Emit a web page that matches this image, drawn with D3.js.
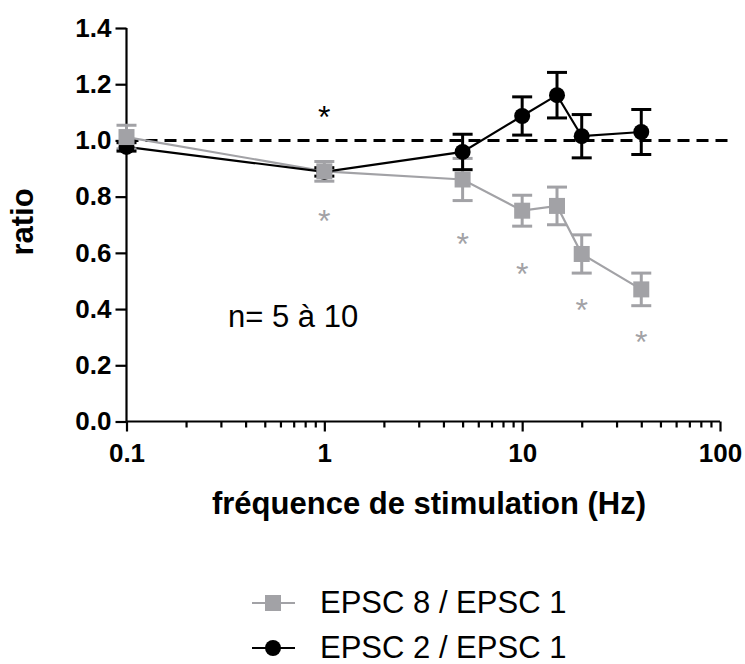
<!DOCTYPE html>
<html>
<head>
<meta charset="utf-8">
<script src="https://cdn.jsdelivr.net/npm/d3@7"></script>
<style>
  body { margin: 0; background: #fff; }
  svg text { font-family: 'Liberation Sans', Arial, sans-serif; }
</style>
</head>
<body>
<div id="viz"></div>
<script>
var freqs = [0.1, 1, 5, 10, 15, 20, 40],
    epsc8 = [1.012, 0.89, 0.861, 0.75, 0.767, 0.596, 0.47],
    epsc8Err = [0.042, 0.035, 0.075, 0.055, 0.067, 0.068, 0.058],
    epsc2 = [0.977, 0.888, 0.959, 1.087, 1.161, 1.015, 1.03],
    epsc2Err = [0.015, 0.015, 0.063, 0.068, 0.081, 0.077, 0.08],
    starsGrayX = [1, 5, 10, 20, 40],
    starsGrayY = [0.73, 0.648, 0.541, 0.415, 0.30],
    starsBlackX = [1],
    starsBlackY = [1.10],
    yTicks = [0, 0.2, 0.4, 0.6, 0.8, 1.0, 1.2, 1.4],
    xTicks = [0.1, 1, 10, 100],
    seriesNames = ['EPSC 8 / EPSC 1', 'EPSC 2 / EPSC 1'];

var gray = '#a2a2a6',
    width = 745,
    height = 664;

var svg = d3.select('#viz').append('svg')
  .attr('width', width)
  .attr('height', height);

var xScale = d3.scaleLog()
  .domain([0.1, 100])
  .range([126.5, 720]);

var yScale = d3.scaleLinear()
  .domain([0, 1.4])
  .range([421.5, 28]);

// minor ticks for the log axis
var minorTicks = xScale.ticks().filter(function(d) { return xTicks.indexOf(d) < 0; });

var xAxis = d3.axisBottom(xScale)
  .tickValues(xTicks)
  .tickFormat(function(d) { return d3.format('~g')(d); })
  .tickSize(10)
  .tickPadding(12);

var xMinor = d3.axisBottom(xScale)
  .tickValues(minorTicks)
  .tickFormat('')
  .tickSize(6);

var yAxis = d3.axisLeft(yScale)
  .tickValues(yTicks)
  .tickFormat(d3.format('.1f'))
  .tickSize(11)
  .tickPadding(4);

var xg = svg.append('g')
  .attr('transform', 'translate(0,' + yScale(0) + ')')
  .call(xAxis);
svg.append('g')
  .attr('transform', 'translate(0,' + yScale(0) + ')')
  .call(xMinor)
  .call(function(g) { g.select('.domain').remove(); });

var yg = svg.append('g')
  .attr('transform', 'translate(' + xScale(0.1) + ',0)')
  .call(yAxis);

svg.selectAll('.domain, .tick line')
  .attr('stroke', '#000')
  .attr('stroke-width', 2.2);
svg.selectAll('.domain')
  .attr('d', function() {
    return d3.select(this.parentNode).attr('transform').indexOf('translate(0') === 0
      ? 'M' + xScale.range()[0] + ',0H' + xScale.range()[1]
      : 'M0,' + yScale.range()[0] + 'V' + yScale.range()[1];
  });

svg.selectAll('.tick text')
  .attr('fill', '#000')
  .style('font-size', '26px')
  .style('font-weight', 'bold');

// reference line at 1.0
svg.append('line')
  .attr('x1', xScale(0.1))
  .attr('x2', 732)
  .attr('y1', yScale(1))
  .attr('y2', yScale(1))
  .attr('stroke', '#000')
  .attr('stroke-width', 3)
  .attr('stroke-dasharray', '12,7');

var line = d3.line()
  .x(function(d) { return xScale(d[0]); })
  .y(function(d) { return yScale(d[1]); });

var grayPts = freqs.map(function(f, i) { return [f, epsc8[i], epsc8Err[i]]; }),
    blackPts = freqs.map(function(f, i) { return [f, epsc2[i], epsc2Err[i]]; });

svg.append('path')
  .datum(grayPts)
  .attr('d', line)
  .attr('fill', 'none')
  .attr('stroke', gray)
  .attr('stroke-width', 2.2);

svg.append('path')
  .datum(blackPts)
  .attr('d', line)
  .attr('fill', 'none')
  .attr('stroke', '#000')
  .attr('stroke-width', 2.2);

function errorBars(pts, color) {
  var g = svg.append('g')
    .attr('stroke', color)
    .attr('stroke-width', 3)
    .selectAll('g').data(pts)
    .enter().append('g');
  g.append('line')
    .attr('x1', function(d) { return xScale(d[0]); })
    .attr('x2', function(d) { return xScale(d[0]); })
    .attr('y1', function(d) { return yScale(d[1] - d[2]); })
    .attr('y2', function(d) { return yScale(d[1] + d[2]); });
  [-1, 1].forEach(function(s) {
    g.append('line')
      .attr('x1', function(d) { return xScale(d[0]) - 10; })
      .attr('x2', function(d) { return xScale(d[0]) + 10; })
      .attr('y1', function(d) { return yScale(d[1] + s * d[2]); })
      .attr('y2', function(d) { return yScale(d[1] + s * d[2]); });
  });
}

errorBars(grayPts, gray);
errorBars(blackPts, '#000');

svg.append('g').selectAll('circle').data(blackPts)
  .enter().append('circle')
    .attr('cx', function(d) { return xScale(d[0]); })
    .attr('cy', function(d) { return yScale(d[1]); })
    .attr('r', 8)
    .attr('fill', '#000');

svg.append('g').selectAll('rect').data(grayPts)
  .enter().append('rect')
    .attr('x', function(d) { return xScale(d[0]) - 8; })
    .attr('y', function(d) { return yScale(d[1]) - 8; })
    .attr('width', 16)
    .attr('height', 16)
    .attr('fill', gray);

// significance stars
function stars(xs, ys, color) {
  svg.append('g').selectAll('text').data(xs)
    .enter().append('text')
      .attr('x', function(d) { return xScale(d); })
      .attr('y', function(d, i) { return yScale(ys[i]) + 16; })
      .attr('text-anchor', 'middle')
      .attr('fill', color)
      .style('font-size', '32px')
      .text('*');
}
stars(starsGrayX, starsGrayY, gray);
stars(starsBlackX, starsBlackY, '#000');

svg.append('text')
  .attr('x', 228)
  .attr('y', 327)
  .style('font-size', '31px')
  .text('n= 5 à 10');

svg.append('text')
  .attr('transform', 'translate(33,222) rotate(-90)')
  .attr('text-anchor', 'middle')
  .style('font-size', '31px')
  .style('font-weight', 'bold')
  .text('ratio');

svg.append('text')
  .attr('x', 429)
  .attr('y', 514)
  .attr('text-anchor', 'middle')
  .style('font-size', '31px')
  .style('font-weight', 'bold')
  .text('fréquence de stimulation (Hz)');

// legend
var legend = svg.append('g').selectAll('g').data(seriesNames)
  .enter().append('g')
    .attr('transform', function(d, i) { return 'translate(0,' + (603 + i * 45) + ')'; });

legend.append('line')
  .attr('x1', 252)
  .attr('x2', 295)
  .attr('stroke', function(d, i) { return i === 0 ? gray : '#000'; })
  .attr('stroke-width', 2.2);

legend.filter(function(d, i) { return i === 0; }).append('rect')
  .attr('x', 265).attr('y', -8)
  .attr('width', 16).attr('height', 16)
  .attr('fill', gray);

legend.filter(function(d, i) { return i === 1; }).append('circle')
  .attr('cx', 273).attr('r', 8)
  .attr('fill', '#000');

legend.append('text')
  .attr('x', 320)
  .attr('y', 10)
  .style('font-size', '31px')
  .text(function(d) { return d; });
</script>
</body>
</html>
